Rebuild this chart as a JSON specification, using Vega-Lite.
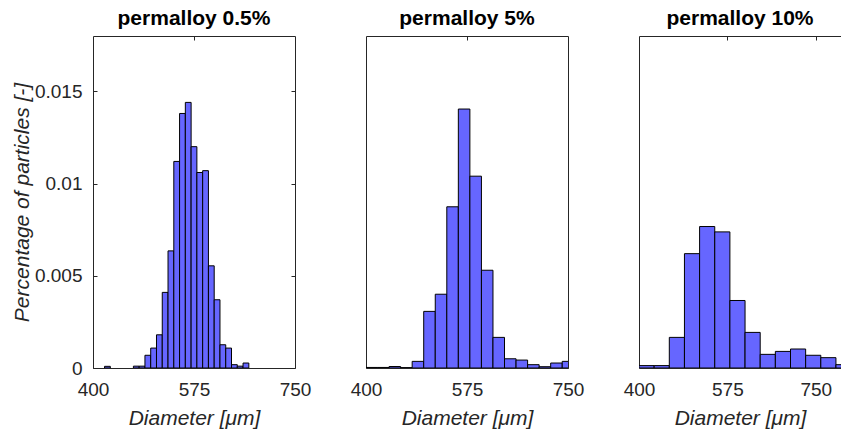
{
  "$schema": "https://vega.github.io/schema/vega-lite/v6.json",
  "padding": {"left": 10, "top": 7, "right": 0, "bottom": 0},
  "background": "white",
  "spacing": 71,
  "bounds": "flush",
  "config": {
    "font": "Liberation Sans",
    "view": {"stroke": "#262626", "strokeWidth": 1},
    "axis": {
      "domain": false, "grid": false, "tickColor": "#262626", "tickSize": -4, "tickWidth": 1,
      "labelFontSize": 19, "labelColor": "#262626", "labelFlush": false, "labelOverlap": false,
      "titleFontSize": 21, "titleFontWeight": "normal", "titleFontStyle": "italic", "titleColor": "#262626"
    },
    "title": {"fontSize": 21, "fontWeight": "bold", "color": "#000000", "offset": 7, "baseline": "alphabetic"}
  },
  "datasets": {
    "p1": [
      {"x0": 420, "x1": 430, "p": 0.00009},
      {"x0": 470, "x1": 480, "p": 0.0001},
      {"x0": 480, "x1": 490, "p": 0.0001},
      {"x0": 490, "x1": 500, "p": 0.00069},
      {"x0": 500, "x1": 510, "p": 0.00108},
      {"x0": 510, "x1": 520, "p": 0.0018},
      {"x0": 520, "x1": 530, "p": 0.0041},
      {"x0": 530, "x1": 540, "p": 0.00635},
      {"x0": 540, "x1": 550, "p": 0.0112},
      {"x0": 550, "x1": 560, "p": 0.0138},
      {"x0": 560, "x1": 570, "p": 0.0144},
      {"x0": 570, "x1": 580, "p": 0.0120},
      {"x0": 580, "x1": 590, "p": 0.0106},
      {"x0": 590, "x1": 600, "p": 0.0107},
      {"x0": 600, "x1": 610, "p": 0.00554},
      {"x0": 610, "x1": 620, "p": 0.0037},
      {"x0": 620, "x1": 630, "p": 0.00126},
      {"x0": 630, "x1": 640, "p": 0.00108},
      {"x0": 640, "x1": 650, "p": 0.00018},
      {"x0": 650, "x1": 660, "p": 0.0001},
      {"x0": 660, "x1": 670, "p": 0.00027}
    ],
    "p2": [
      {"x0": 400, "x1": 420, "p": 0.00003},
      {"x0": 420, "x1": 440, "p": 0.00003},
      {"x0": 440, "x1": 460, "p": 0.00008},
      {"x0": 460, "x1": 480, "p": 0.00002},
      {"x0": 480, "x1": 500, "p": 0.00036},
      {"x0": 500, "x1": 520, "p": 0.00307},
      {"x0": 520, "x1": 540, "p": 0.0040},
      {"x0": 540, "x1": 560, "p": 0.00874},
      {"x0": 560, "x1": 580, "p": 0.01404},
      {"x0": 580, "x1": 600, "p": 0.0104},
      {"x0": 600, "x1": 620, "p": 0.0053},
      {"x0": 620, "x1": 640, "p": 0.00166},
      {"x0": 640, "x1": 660, "p": 0.0005},
      {"x0": 660, "x1": 680, "p": 0.00043},
      {"x0": 680, "x1": 700, "p": 0.00018},
      {"x0": 700, "x1": 720, "p": 0.00007},
      {"x0": 720, "x1": 740, "p": 0.00027},
      {"x0": 740, "x1": 760, "p": 0.00036}
    ],
    "p3": [
      {"x0": 400, "x1": 430, "p": 0.00013},
      {"x0": 430, "x1": 460, "p": 0.00013},
      {"x0": 460, "x1": 490, "p": 0.00166},
      {"x0": 490, "x1": 520, "p": 0.0062},
      {"x0": 520, "x1": 550, "p": 0.00767},
      {"x0": 550, "x1": 580, "p": 0.00738},
      {"x0": 580, "x1": 610, "p": 0.00366},
      {"x0": 610, "x1": 640, "p": 0.00193},
      {"x0": 640, "x1": 670, "p": 0.00074},
      {"x0": 670, "x1": 700, "p": 0.0009},
      {"x0": 700, "x1": 730, "p": 0.00103},
      {"x0": 730, "x1": 760, "p": 0.00069},
      {"x0": 760, "x1": 790, "p": 0.00056},
      {"x0": 790, "x1": 820, "p": 0.00018}
    ]
  },
  "hconcat": [
    {
      "width": 202, "height": 332,
      "title": "permalloy 0.5%",
      "data": {"name": "p1"},
      "layer": [
        {
          "mark": {"type": "bar", "clip": true, "fill": "#6666FF", "stroke": "#000000", "strokeWidth": 1},
          "encoding": {
            "x": {"field": "x0", "type": "quantitative", "scale": {"domain": [400, 750], "nice": false, "zero": false},
              "axis": {"orient": "bottom", "values": [400, 575, 750], "format": "d", "title": "Diameter [μm]", "labelBaseline": "alphabetic", "labelPadding": 31, "titleX": 101, "titleY": 56, "titleBaseline": "alphabetic", "titleAlign": "center"}},
            "x2": {"field": "x1"},
            "y": {"field": "p", "type": "quantitative", "scale": {"domain": [0, 0.018], "nice": false},
              "axis": {"orient": "left", "values": [0, 0.005, 0.01, 0.015], "format": "~g", "title": "Percentage of particles [-]", "labelPadding": 15, "titleX": -65, "titleY": 166, "titleBaseline": "alphabetic", "titleAlign": "center", "titleAngle": 270}},
            "y2": {"datum": 0}
          }
        },
        {
          "mark": {"type": "point", "opacity": 0},
          "encoding": {
            "x": {"field": "x0", "type": "quantitative", "axis": {"orient": "top", "values": [575], "labels": false, "title": null}},
            "y": {"field": "p", "type": "quantitative", "axis": {"orient": "right", "values": [0.005, 0.01, 0.015], "labels": false, "title": null}}
          }
        }
      ]
    },
    {
      "width": 202, "height": 332,
      "title": "permalloy 5%",
      "data": {"name": "p2"},
      "layer": [
        {
          "mark": {"type": "bar", "clip": true, "fill": "#6666FF", "stroke": "#000000", "strokeWidth": 1},
          "encoding": {
            "x": {"field": "x0", "type": "quantitative", "scale": {"domain": [400, 750], "nice": false, "zero": false},
              "axis": {"orient": "bottom", "values": [400, 575, 750], "format": "d", "title": "Diameter [μm]", "labelBaseline": "alphabetic", "labelPadding": 31, "titleX": 101, "titleY": 56, "titleBaseline": "alphabetic", "titleAlign": "center"}},
            "x2": {"field": "x1"},
            "y": {"field": "p", "type": "quantitative", "scale": {"domain": [0, 0.018], "nice": false}, "axis": null},
            "y2": {"datum": 0}
          }
        },
        {
          "mark": {"type": "point", "opacity": 0},
          "encoding": {
            "x": {"field": "x0", "type": "quantitative", "axis": {"orient": "top", "values": [575], "labels": false, "title": null}},
            "y": {"field": "p", "type": "quantitative", "axis": null}
          }
        }
      ]
    },
    {
      "width": 202, "height": 332,
      "title": "permalloy 10%",
      "data": {"name": "p3"},
      "layer": [
        {
          "mark": {"type": "bar", "clip": true, "fill": "#6666FF", "stroke": "#000000", "strokeWidth": 1},
          "encoding": {
            "x": {"field": "x0", "type": "quantitative", "scale": {"domain": [400, 800], "nice": false, "zero": false},
              "axis": {"orient": "bottom", "values": [400, 575, 750], "format": "d", "title": "Diameter [μm]", "labelBaseline": "alphabetic", "labelPadding": 31, "titleX": 101, "titleY": 56, "titleBaseline": "alphabetic", "titleAlign": "center"}},
            "x2": {"field": "x1"},
            "y": {"field": "p", "type": "quantitative", "scale": {"domain": [0, 0.018], "nice": false}, "axis": null},
            "y2": {"datum": 0}
          }
        },
        {
          "mark": {"type": "point", "opacity": 0},
          "encoding": {
            "x": {"field": "x0", "type": "quantitative", "axis": {"orient": "top", "values": [575, 750], "labels": false, "title": null}},
            "y": {"field": "p", "type": "quantitative", "axis": null}
          }
        }
      ]
    }
  ]
}
